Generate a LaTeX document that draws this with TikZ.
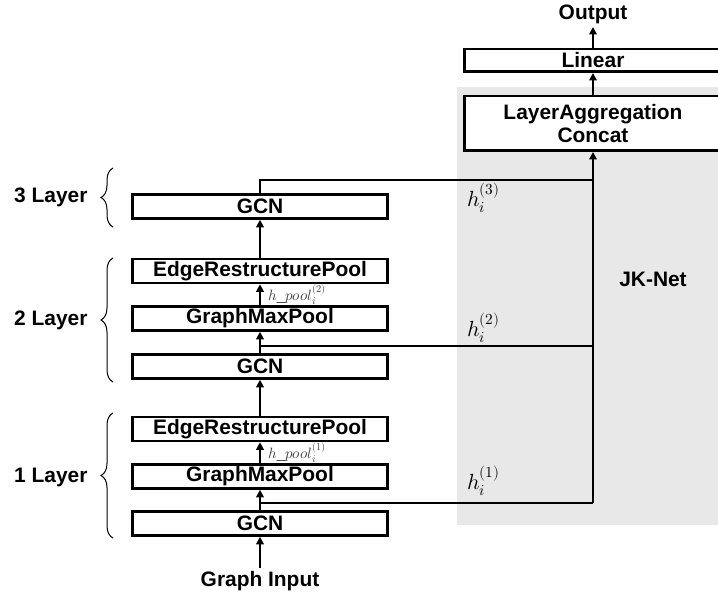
\documentclass[tikz,border=0pt]{standalone}
\usepackage{fontspec}
\usepackage{unicode-math}
\setmainfont{Liberation Sans}
\usetikzlibrary{arrows.meta, decorations.pathreplacing, backgrounds}

\begin{document}
\begin{tikzpicture}[
  x=1bp, y=-1bp,
  font=\fontsize{21}{23}\selectfont\bfseries,
  layerbox/.style={draw, line width=2.5bp, fill=white, minimum width=255bp,
                   minimum height=24bp, inner sep=0pt, align=center},
  headbox/.style={layerbox, minimum width=257bp},
  arr/.style={-{Triangle[length=7.5bp, width=7.5bp]}, line width=2.5bp},
  link/.style={line width=2.5bp},
  brc/.style={decorate, decoration={brace, amplitude=12bp, aspect=0.5}, line width=1bp},
  hlab/.style={font=\fontsize{22}{24}\selectfont, anchor=west, inner sep=0pt},
  plab/.style={font=\fontsize{15}{17}\selectfont, text=gray!50!black, anchor=west, inner sep=0pt},
]
\useasboundingbox (0,0) rectangle (718,596);

% JK-Net panel
\fill[gray!18] (457,87) rectangle (722,525);
\node (jk) at (653,279) {JK-Net};

% layer stack
\node[layerbox] (gcn1) at (260,523.5) {GCN};
\node[layerbox] (gmp1) at (260,476.5) {GraphMaxPool};
\node[layerbox] (erp1) at (260,429)   {EdgeRestructurePool};
\node[layerbox] (gcn2) at (260,366.5) {GCN};
\node[layerbox] (gmp2) at (260,318.5) {GraphMaxPool};
\node[layerbox] (erp2) at (260,271)   {EdgeRestructurePool};
\node[layerbox] (gcn3) at (260,206.5) {GCN};
\node (input) at (260,581) {Graph Input};

\node[headbox, minimum height=54.5bp] (agg) at (593,123.5) {LayerAggregation\\Concat};
\node[headbox, minimum height=22.5bp] (lin) at (593,60.5) {Linear};
\node (out) at (593,14) {Output};

% branch points
\coordinate (j1) at (260,503);
\coordinate (j2) at (260,346);
\coordinate (t1) at (593,503);
\coordinate (t2) at (593,346);
\coordinate (t3) at (593,180);

\draw[arr] (input) -- (gcn1);
\draw[arr] (gcn1) -- (gmp1);
\draw[arr] (gmp1) -- (erp1);
\draw[arr] (erp1) -- (gcn2);
\draw[arr] (gcn2) -- (gmp2);
\draw[arr] (gmp2) -- (erp2);
\draw[arr] (erp2) -- (gcn3);
\draw[arr] (agg) -- (lin);
\draw[arr] (lin) -- (out);

\draw[link] (j1) -- (t1);
\draw[link] (j2) -- (t2);
\draw[link] (gcn3.north) |- (t3);
\draw[arr] (t1) -- (agg.south);

\node[hlab] (h1) at (467,481) {$h_i^{(1)}$};
\node[hlab] (h2) at (467,328) {$h_i^{(2)}$};
\node[hlab] (h3) at (467,198) {$h_i^{(3)}$};
\node[plab] (p1) at (268,453) {$h\_pool_i^{(1)}$};
\node[plab] (p2) at (268,295) {$h\_pool_i^{(2)}$};

% layer groups
\draw[brc] (113,538) -- (113,413);
\draw[brc] (113,382) -- (113,258);
\draw[brc] (113,227) -- (113,168);
\node[anchor=east] (l1) at (91,477) {1 Layer};
\node[anchor=east] (l2) at (91,320) {2 Layer};
\node[anchor=east] (l3) at (91,197) {3 Layer};

\end{tikzpicture}
\end{document}
